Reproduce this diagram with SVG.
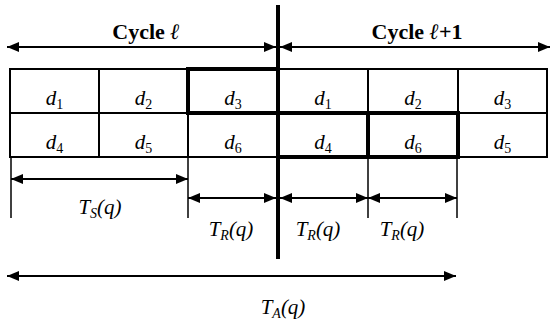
<svg xmlns="http://www.w3.org/2000/svg" width="551" height="324" viewBox="0 0 551 324">
<style>
.ln{stroke:#000;stroke-width:2;fill:none}
.thin{stroke:#000;stroke-width:1.5;fill:none}
.thick{stroke:#000;stroke-width:4;fill:none}
.arr{stroke:#000;stroke-width:2;fill:none;marker-start:url(#ah);marker-end:url(#ah)}
text{fill:#000;text-anchor:middle;font-family:"Liberation Serif","Times New Roman",serif}
.sub{font-size:14px}
</style>
<defs>
<marker id="ah" viewBox="0 0 12 10" refX="12" refY="5" markerWidth="12" markerHeight="10" markerUnits="userSpaceOnUse" orient="auto-start-reverse">
<path d="M0,0 L12,5 L0,10 Z" fill="#000"/>
</marker>
</defs>
<rect x="0" y="0" width="551" height="324" fill="#fff"/>
<g id="table">
<rect class="ln" x="10" y="69" width="537" height="88"/>
<line class="ln" x1="10" y1="113" x2="547" y2="113"/>
<line class="ln" x1="99" y1="69" x2="99" y2="157"/>
<line class="ln" x1="188" y1="69" x2="188" y2="157"/>
<line class="ln" x1="368" y1="69" x2="368" y2="157"/>
<line class="ln" x1="458" y1="69" x2="458" y2="157"/>
<rect class="thick" x="188" y="69" width="90" height="44"/>
<rect class="thick" x="278" y="113" width="180" height="44"/>
<line class="thick" x1="368" y1="113" x2="368" y2="157"/>
</g>
<g id="cells" font-size="21" font-style="italic">
<text x="54.5" y="105">d<tspan class="sub" dy="4" font-style="normal">1</tspan></text>
<text x="143.5" y="105">d<tspan class="sub" dy="4" font-style="normal">2</tspan></text>
<text x="233" y="105">d<tspan class="sub" dy="4" font-style="normal">3</tspan></text>
<text x="323" y="105">d<tspan class="sub" dy="4" font-style="normal">1</tspan></text>
<text x="413" y="105">d<tspan class="sub" dy="4" font-style="normal">2</tspan></text>
<text x="502.5" y="105">d<tspan class="sub" dy="4" font-style="normal">3</tspan></text>
<text x="54.5" y="149">d<tspan class="sub" dy="4" font-style="normal">4</tspan></text>
<text x="143.5" y="149">d<tspan class="sub" dy="4" font-style="normal">5</tspan></text>
<text x="233" y="149">d<tspan class="sub" dy="4" font-style="normal">6</tspan></text>
<text x="323" y="149">d<tspan class="sub" dy="4" font-style="normal">4</tspan></text>
<text x="413" y="149">d<tspan class="sub" dy="4" font-style="normal">6</tspan></text>
<text x="502.5" y="149">d<tspan class="sub" dy="4" font-style="normal">5</tspan></text>
</g>
<g id="divider">
<line x1="278" y1="5" x2="278" y2="259" stroke="#000" stroke-width="4"/>
</g>
<g id="connectors">
<line class="thin" x1="11" y1="157" x2="11" y2="218"/>
<line class="thin" x1="188" y1="157" x2="188" y2="218"/>
<line class="thin" x1="368" y1="157" x2="368" y2="218"/>
<line class="thin" x1="457" y1="157" x2="457" y2="218"/>
<line class="arr" x1="7" y1="47" x2="276" y2="47"/>
<line class="arr" x1="280" y1="47" x2="550" y2="47"/>
<line class="arr" x1="11" y1="179" x2="188" y2="179"/>
<line class="arr" x1="188" y1="198" x2="276" y2="198"/>
<line class="arr" x1="280" y1="198" x2="368" y2="198"/>
<line class="arr" x1="368" y1="198" x2="457" y2="198"/>
<line class="arr" x1="7" y1="276" x2="456" y2="276"/>
</g>
<g id="cycles" font-size="22" font-weight="bold">
<text x="146" y="39">Cycle <tspan font-style="italic">ℓ</tspan></text>
<text x="417" y="39">Cycle <tspan font-style="italic">ℓ</tspan>+1</text>
</g>
<g id="labels" font-size="21" font-style="italic">
<text x="100" y="214">T<tspan class="sub" dy="4">S</tspan><tspan dy="-4">(q)</tspan></text>
<text x="231" y="236">T<tspan class="sub" dy="4">R</tspan><tspan dy="-4">(q)</tspan></text>
<text x="318" y="236">T<tspan class="sub" dy="4">R</tspan><tspan dy="-4">(q)</tspan></text>
<text x="402" y="236">T<tspan class="sub" dy="4">R</tspan><tspan dy="-4">(q)</tspan></text>
<text x="283" y="314">T<tspan class="sub" dy="4">A</tspan><tspan dy="-4">(q)</tspan></text>
</g>
</svg>
